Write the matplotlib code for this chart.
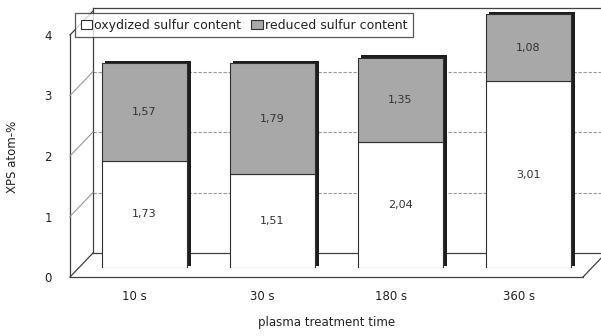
import numpy as np
import matplotlib.pyplot as plt
from matplotlib.transforms import ScaledTranslation, IdentityTransform

categories = ['10 s', '30 s', '180 s', '360 s']
oxidized = [1.73, 1.51, 2.04, 3.01]
reduced = [1.57, 1.79, 1.35, 1.08]
y_ticks = [0, 1, 2, 3, 4]

W, H = 601, 336
fig = plt.figure(figsize=(W / 100, H / 100), dpi=100)


def px_box(x0, y0, x1, y1):
    # pixel corners (top-left origin) -> figure fraction rect
    return [x0 / W, 1 - y1 / H, (x1 - x0) / W, (y1 - y0) / H]


# front plane: value axis, floor edge and category labels
ax = fig.add_axes(px_box(70, 35, 583, 277))
ax.set_xlim(-0.5, 3.5)
ax.set_ylim(0, 4)
ax.patch.set_visible(False)
for s in ['top', 'right']:
    ax.spines[s].set_visible(False)
for s in ['left', 'bottom']:
    ax.spines[s].set_color('#404040')
    ax.spines[s].set_linewidth(0.9)
ax.set_yticks(y_ticks)
ax.set_yticklabels([str(v) for v in y_ticks])
ax.set_xticks(np.arange(len(categories)))
ax.set_xticklabels(categories)
ax.tick_params(axis='y', length=0, pad=13, labelsize=8.5, colors='#222222')
ax.tick_params(axis='x', length=0, pad=9, labelsize=8.5, colors='#222222')
ax.set_xlabel('plasma treatment time', fontsize=8.5, color='#222222', labelpad=10)
fig.text(13 / W, 1 - 157 / H, 'XPS atom-%', rotation=90, fontsize=8.5,
         color='#222222', ha='center', va='center')

# back wall sits 23 px right and 24 px up
back = ax.transData + ScaledTranslation(0.23, 0.24, fig.dpi_scale_trans)
ax.hlines([1, 2, 3], -0.5, 3.6, transform=back, colors='#9a9a9a',
          linewidth=0.8, linestyles=(0, (3, 1.5)), clip_on=False)
ax.plot([-0.5, 3.6], [0, 0], transform=back, color='#404040', lw=0.9, clip_on=False)
ax.plot([-0.5, -0.5], [0, 4.05], transform=back, color='#404040', lw=0.9, clip_on=False)
ax.plot([-0.5, 3.6], [4.05, 4.05], transform=back, color='#404040', lw=0.9, clip_on=False)


def depth_edge(x, y, **kw):
    x0, y0 = ax.transData.transform((x, y))
    x1, y1 = back.transform((x, y))
    fig.add_artist(plt.Line2D([x0, x1], [y0, y1], transform=IdentityTransform(), **kw))


for v in [1, 2, 3]:
    depth_edge(-0.5, v, color='#9a9a9a', lw=0.8)
depth_edge(-0.5, 0, color='#404040', lw=0.9)
depth_edge(-0.5, 4, color='#404040', lw=0.9)
depth_edge(3.5, 0, color='#404040', lw=0.9)

# bars at mid depth, slightly taller scale
bx = fig.add_axes(px_box(80.5, 268 - 4.3 * 62, 592.5, 268))
bx.set_xlim(-0.5, 3.5)
bx.set_ylim(0, 4.3)
bx.axis('off')

x = np.arange(len(categories))
total = np.array(oxidized) + np.array(reduced)
width = 0.67
side = bx.transData + ScaledTranslation(0.035, 0.025, fig.dpi_scale_trans)
bx.bar(x, total, width, color='#1e1e1e', transform=side, zorder=1)
b1 = bx.bar(x, oxidized, width, color='white', edgecolor='#303030', lw=0.8,
            zorder=2, label='oxydized sulfur content')
b2 = bx.bar(x, reduced, width, bottom=oxidized, color='#a8a8a8',
            edgecolor='#303030', lw=0.8, zorder=2, label='reduced sulfur content')

for i in range(len(categories)):
    bx.text(x[i], oxidized[i] / 2, f'{oxidized[i]:.2f}'.replace('.', ','),
            ha='center', va='center', fontsize=8, color='#333333', zorder=3)
    bx.text(x[i], oxidized[i] + reduced[i] / 2, f'{reduced[i]:.2f}'.replace('.', ','),
            ha='center', va='center', fontsize=8, color='#333333', zorder=3)

leg = fig.legend(handles=[b1, b2], loc='upper left', ncol=2,
                 bbox_to_anchor=(75 / W, 1 - 13 / H), fontsize=9,
                 frameon=True, fancybox=False, borderpad=0.45, borderaxespad=0,
                 handlelength=0.9, handleheight=0.7, handletextpad=0.2,
                 columnspacing=0.8, labelcolor='#222222')
leg.get_frame().set_edgecolor('#303030')
leg.get_frame().set_linewidth(0.9)

fig.savefig('out.png', dpi=100)
